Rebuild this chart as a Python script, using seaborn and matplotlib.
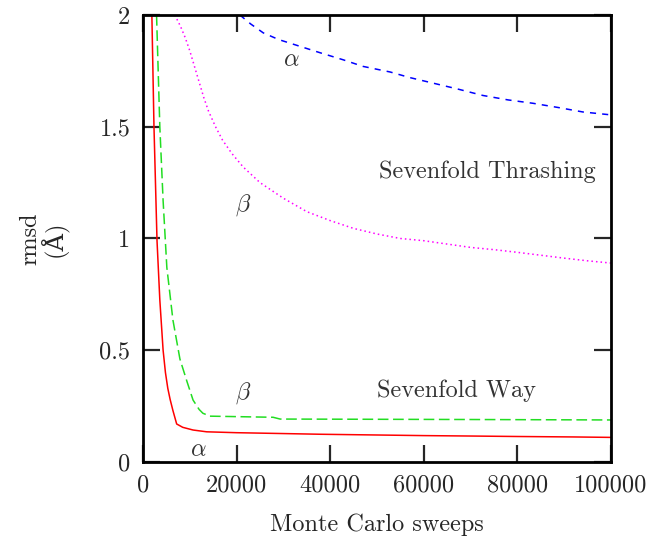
import numpy as np
import pandas as pd
import matplotlib
matplotlib.use("Agg")
import matplotlib.pyplot as plt
import seaborn as sns

# ── Data ──────────────────────────────────────────────────────────
thrash_alpha_x = [20700, 23000, 25700, 29000, 33500, 38000, 42700, 47000, 52800, 57000,
                  62000, 67000, 72600, 78000, 83300, 89000, 94000, 100000]
thrash_alpha_y = [2.00, 1.96, 1.92, 1.89, 1.86, 1.83, 1.80, 1.77, 1.745, 1.72,
                  1.695, 1.67, 1.64, 1.62, 1.605, 1.585, 1.566, 1.553]

thrash_beta_x = [6800, 8000, 9000, 10000, 11000, 12000, 13000, 14000, 15500, 17000, 19000,
                 21400, 25000, 30000, 35000, 40000, 45000, 50000, 55000, 60000, 65000,
                 70000, 75000, 80000, 85000, 90000, 95000, 100000]
thrash_beta_y = [2.00, 1.95, 1.90, 1.84, 1.77, 1.70, 1.63, 1.57, 1.50, 1.44, 1.38,
                 1.32, 1.25, 1.18, 1.12, 1.08, 1.045, 1.02, 1.00, 0.99, 0.975,
                 0.96, 0.95, 0.938, 0.925, 0.912, 0.90, 0.89]

way_alpha_x = [1900, 2350, 3000, 3600, 4300, 4800, 5300, 5800, 6400, 6800, 7200, 8500,
               10700, 13600, 20000, 27800, 38000, 49000, 60000, 70500, 80000, 91900, 100000]
way_alpha_y = [2.00, 1.50, 0.99, 0.725, 0.50, 0.40, 0.33, 0.28, 0.23, 0.20, 0.17, 0.155,
               0.143, 0.135, 0.131, 0.128, 0.124, 0.121, 0.118, 0.116, 0.114, 0.112, 0.11]

way_beta_x = [2900, 3600, 4300, 5100, 6400, 7900, 9400, 10700, 12000, 12800, 14300,
              27800, 29300, 70500, 100000]
way_beta_y = [2.00, 1.50, 1.17, 0.87, 0.635, 0.46, 0.36, 0.277, 0.235, 0.218, 0.205,
              0.20, 0.192, 0.19, 0.188]

x_ticks = [0, 20000, 40000, 60000, 80000, 100000]
y_ticks = [0, 0.5, 1, 1.5, 2]
y_tick_labels = ["0", "0.5", "1", "1.5", "2"]

# ── Style ─────────────────────────────────────────────────────────
sns.set_style("ticks")
plt.rcParams["font.family"] = ["cmr10", "DejaVu Serif"]
plt.rcParams["mathtext.fontset"] = "cm"
plt.rcParams["axes.formatter.use_mathtext"] = True
fs = 17.5

fig = plt.figure(figsize=(6.61, 5.39), dpi=100)
ax = fig.add_axes([0.2163, 0.1429, 0.7081, 0.8293])

series = [
    (thrash_alpha_x, thrash_alpha_y, "#0000ff", (0, (4, 4))),
    (thrash_beta_x, thrash_beta_y, "#ff00ff", (0, (1, 2))),
    (way_beta_x, way_beta_y, "#22dd22", (0, (7, 3))),
    (way_alpha_x, way_alpha_y, "#ff0000", "-"),
]
for xs, ys, col, ls in series:
    sns.lineplot(x=xs, y=ys, ax=ax, color=col, linestyle=ls, linewidth=1.1,
                 sort=False, estimator=None)

ax.set_xlim(0, 100000)
ax.set_ylim(0, 2)
ax.set_xticks(x_ticks)
ax.set_xticklabels([str(t) for t in x_ticks])
ax.set_yticks(y_ticks)
ax.set_yticklabels(y_tick_labels)
ax.tick_params(direction="in", length=12, width=1.6, top=True, right=True,
               labelsize=fs, pad=9)
for sp in ax.spines.values():
    sp.set_visible(True)
    sp.set_linewidth(2.0)
    sp.set_color("black")

ax.set_xlabel("Monte Carlo sweeps", fontsize=fs, labelpad=12)
ax.set_ylabel("rmsd\n(Å)", fontsize=fs, labelpad=22, linespacing=0.95)

# ── Annotations ───────────────────────────────────────────────────
tc = "#333333"
ax.text(73500, 1.30, "Sevenfold Thrashing", ha="center", va="center", fontsize=fs, color=tc)
ax.text(67000, 0.32, "Sevenfold Way", ha="center", va="center", fontsize=fs, color=tc)
ax.text(31800, 1.80, r"$\alpha$", ha="center", va="center", fontsize=fs, color=tc)
ax.text(21400, 1.15, r"$\beta$", ha="center", va="center", fontsize=fs, color=tc)
ax.text(21400, 0.31, r"$\beta$", ha="center", va="center", fontsize=fs, color=tc)
ax.text(11800, 0.054, r"$\alpha$", ha="center", va="center", fontsize=fs, color=tc)

fig.savefig("out.png", dpi=100)
